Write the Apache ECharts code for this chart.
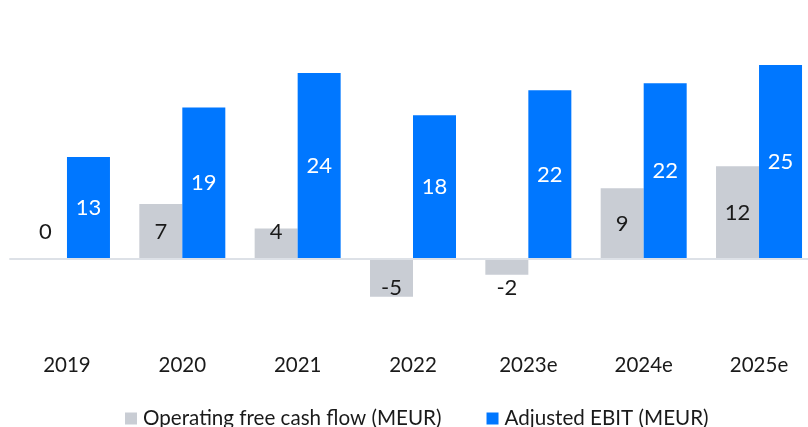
<!DOCTYPE html>
<html>
<head>
<meta charset="utf-8">
<script src="https://cdn.jsdelivr.net/npm/echarts@6/dist/echarts.min.js"></script>
<style>html,body{margin:0;padding:0;background:#fff}#c{width:808px;height:427px}</style>
</head>
<body>
<div id="c"></div>
<script>
const categories = ['2019', '2020', '2021', '2022', '2023e', '2024e', '2025e'];
const ocfName = 'Operating free cash flow (MEUR)';
const ebitName = 'Adjusted EBIT (MEUR)';
const ocfValues = [0, 7.0, 3.9, -4.8, -2.0, 9.0, 11.8];
const ebitValues = [13.0, 19.3, 23.7, 18.3, 21.5, 22.4, 24.7];

const FONT = 'Lato';
const GREY = '#c9cdd4';
const BLUE = '#0077ff';

function ocfLabel(v) {
  if (v < 0) return { position: 'insideTop', distance: 18 };
  if (v < 6) return { position: 'insideBottom', distance: 16 };
  return { position: 'inside' };
}

const chart = echarts.init(document.getElementById('c'), null, { renderer: 'canvas' });
chart.setOption({
  animation: false,
  backgroundColor: '#ffffff',
  grid: { left: 9.3, width: 807.4, top: 23.5, bottom: 89.5, containLabel: false, outerBoundsMode: 'none' },
  legend: {
    data: [ocfName, ebitName],
    left: 120, top: 403,
    icon: 'rect', itemWidth: 12, itemHeight: 12, itemGap: 45,
    textStyle: { fontFamily: FONT, fontSize: 20.6, color: '#1a1a1a', padding: [0, 0, 0, 1] }
  },
  xAxis: {
    type: 'category', data: categories,
    axisLine: { show: false, onZero: false }, axisTick: { show: false },
    axisLabel: { fontFamily: FONT, fontSize: 20.5, color: '#1a1a1a', margin: 17 }
  },
  yAxis: {
    type: 'value', min: -10, max: 30, show: false,
    splitLine: { show: false }
  },
  series: [
    {
      name: 'zero', type: 'line', data: [], z: 1, silent: true,
      markLine: {
        silent: true, symbol: 'none', label: { show: false },
        lineStyle: { color: '#dde1e7', width: 2, type: 'solid' },
        data: [{ yAxis: 0 }]
      }
    },
    {
      name: ocfName, type: 'bar', z: 2, barWidth: 43, barGap: '0%',
      itemStyle: { color: GREY },
      data: ocfValues.map(v => ({
        value: v,
        label: Object.assign({ show: true, color: '#1a1a1a', fontFamily: FONT, fontSize: 22,
          formatter: p => String(Math.round(p.value)) }, ocfLabel(v))
      }))
    },
    {
      name: ebitName, type: 'bar', z: 2, barWidth: 43, barGap: '0%',
      itemStyle: { color: BLUE },
      label: { show: true, position: 'inside', color: '#ffffff', fontFamily: FONT, fontSize: 22,
        formatter: p => String(Math.round(p.value)) },
      data: ebitValues
    }
  ]
});
</script>
</body>
</html>
